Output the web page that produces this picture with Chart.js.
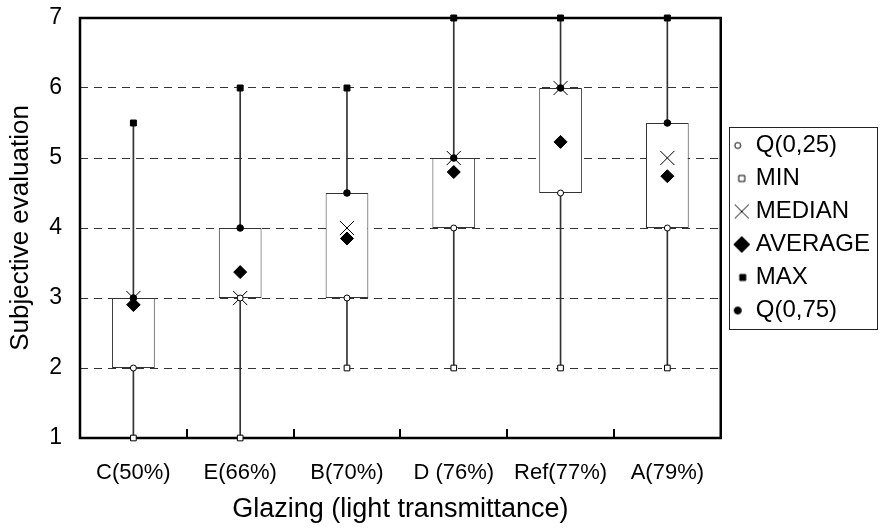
<!DOCTYPE html>
<html>
<head>
<meta charset="utf-8">
<script src="https://cdn.jsdelivr.net/npm/chart.js@4"></script>
<style>
    html, body { margin: 0; padding: 0; background: #fff; }
</style>
</head>
<body>
<canvas id="boxChart" width="880" height="528"></canvas>
<script>
var kategorije = ["C(50%)", "E(66%)", "B(70%)", "D (76%)", "Ref(77%)", "A(79%)"];
var minVrijednosti = [1, 1, 2, 2, 2, 2];
var q25 = [2, 3, 3, 4, 4.5, 4];
var medijan = [3, 3, 4, 5, 6, 5];
var prosjek = [2.9, 3.37, 3.85, 4.8, 5.23, 4.74];
var q75 = [3, 4, 4.5, 5, 6, 5.5];
var maxVrijednosti = [5.5, 6, 6, 7, 7, 7];
var yOznake = [1, 2, 3, 4, 5, 6, 7];

Chart.defaults.color = '#000';
Chart.defaults.font.family = "'Liberation Sans', Arial, sans-serif";

// mali markeri za legendu (razlicite velicine kao u originalu)
function napraviMarker(oblik, vel, ispuna, dx) {
    var c = document.createElement('canvas');
    c.width = 40; c.height = 24;
    var g = c.getContext('2d');
    var x = 20 + dx, y = 12;
    g.lineWidth = 1;
    g.strokeStyle = '#000';
    g.fillStyle = ispuna;
    g.beginPath();
    if (oblik === 'krug') {
        g.arc(x, y, vel, 0, Math.PI * 2);
    } else if (oblik === 'kvadrat') {
        g.rect(x - vel + 0.5, y - vel + 0.5, vel * 2 - 1, vel * 2 - 1);
    } else if (oblik === 'romb') {
        g.moveTo(x, y - vel); g.lineTo(x + vel, y); g.lineTo(x, y + vel); g.lineTo(x - vel, y); g.closePath();
    } else if (oblik === 'krst') {
        g.moveTo(x - vel, y - vel); g.lineTo(x + vel, y + vel);
        g.moveTo(x + vel, y - vel); g.lineTo(x - vel, y + vel);
        g.stroke();
        return c;
    }
    g.fill();
    g.stroke();
    return c;
}

var markeriLegende = [
    napraviMarker('krug', 3, '#fff', 1),
    napraviMarker('kvadrat', 3.5, '#fff', 5),
    napraviMarker('krst', 7, '#000', 5),
    napraviMarker('romb', 8, '#000', 5),
    napraviMarker('kvadrat', 3.5, '#000', 6),
    napraviMarker('krug', 3.5, '#000', 1)
];

var okvir = {
    id: 'okvir',
    beforeDatasetsDraw: function (chart) {
        var a = chart.chartArea;
        var ctx = chart.ctx;
        var xs = chart.scales.x;
        ctx.save();
        ctx.strokeStyle = '#000';
        ctx.lineWidth = 2.5;
        ctx.strokeRect(a.left, a.top, a.right - a.left, a.bottom - a.top);
        // kratke crtice prema unutra izmedju kategorija
        ctx.lineWidth = 2;
        for (var i = 1; i < kategorije.length; i++) {
            var px = Math.round((xs.getPixelForValue(i - 1) + xs.getPixelForValue(i)) / 2);
            ctx.beginPath();
            ctx.moveTo(px, a.bottom);
            ctx.lineTo(px, a.bottom - 9);
            ctx.stroke();
        }
        ctx.restore();
    }
};

var okvirLegende = {
    id: 'okvirLegende',
    afterDraw: function (chart) {
        var boxes = chart.legend.legendHitBoxes;
        if (!boxes || !boxes.length) return;
        var ctx = chart.ctx;
        var zadnji = boxes[boxes.length - 1];
        var lijevo = Math.round(boxes[0].left) - 0.5;
        var gore = Math.round(boxes[0].top) - 6.5;
        var dolje = Math.round(zadnji.top + zadnji.height) + 6.5;
        var desno = chart.width - 2.5;
        ctx.save();
        ctx.strokeStyle = '#222';
        ctx.lineWidth = 1;
        ctx.strokeRect(lijevo, gore, desno - lijevo, dolje - gore);
        ctx.restore();
    }
};

function tacke(label, podaci, stil, radius, ispuna, debljina) {
    return {
        type: 'line',
        label: label,
        data: podaci,
        showLine: false,
        pointStyle: stil,
        pointRadius: radius,
        pointBackgroundColor: ispuna,
        pointBorderColor: '#000',
        pointBorderWidth: debljina,
        order: 0,
        clip: false
    };
}

var ctx = document.getElementById('boxChart').getContext('2d');
var boxChart = new Chart(ctx, {
    type: 'bar',
    data: {
        labels: kategorije,
        datasets: [
            tacke('Q(0,25)', q25, 'circle', 3, '#fff', 1),
            tacke('MIN', minVrijednosti, 'rect', 4, '#fff', 1),
            tacke('MEDIAN', medijan, 'crossRot', 10, '#000', 1),
            tacke('AVERAGE', prosjek, 'rectRot', 6.5, '#000', 1),
            tacke('MAX', maxVrijednosti, 'rect', 4.2, '#000', 1),
            tacke('Q(0,75)', q75, 'circle', 3.3, '#000', 1),
            {
                label: 'box',
                data: kategorije.map(function (k, i) { return [q25[i], q75[i]]; }),
                backgroundColor: '#fff',
                borderColor: '#333',
                borderWidth: 1,
                borderSkipped: false,
                barPercentage: 0.4,
                categoryPercentage: 1,
                grouped: false,
                order: 2
            },
            {
                label: 'whisker',
                data: kategorije.map(function (k, i) { return [minVrijednosti[i], maxVrijednosti[i]]; }),
                backgroundColor: '#333',
                borderWidth: 0,
                barThickness: 1,
                grouped: false,
                order: 3
            }
        ]
    },
    options: {
        responsive: false,
        animation: false,
        layout: { padding: { top: 18, left: 0, right: 0, bottom: 0 } },
        plugins: {
            legend: {
                position: 'right',
                fullSize: false,
                labels: {
                    usePointStyle: true,
                    boxWidth: 14,
                    padding: 9,
                    font: { size: 24 },
                    color: '#000',
                    generateLabels: function (chart) {
                        var items = Chart.defaults.plugins.legend.labels.generateLabels(chart);
                        return items.filter(function (it) { return it.datasetIndex < 6; }).map(function (it) {
                            it.pointStyle = markeriLegende[it.datasetIndex];
                            return it;
                        });
                    }
                }
            },
            tooltip: { enabled: false }
        },
        scales: {
            x: {
                afterFit: function (axis) { axis.height = 90; },
                grid: { display: false },
                border: { display: false },
                ticks: { autoSkip: false, maxRotation: 0, padding: 14, font: { size: 22 } },
                title: {
                    display: true,
                    text: 'Glazing (light transmittance)',
                    font: { size: 27 },
                    padding: { top: 10, bottom: 2 }
                }
            },
            y: {
                min: 1,
                max: 7,
                afterFit: function (axis) {
                    axis.width = 80;
                    axis.paddingTop = 0;
                    axis.paddingBottom = 0;
                },
                afterBuildTicks: function (axis) {
                    axis.ticks = yOznake.map(function (v) { return { value: v }; });
                },
                ticks: { padding: 18, font: { size: 23 } },
                grid: { color: '#333', lineWidth: 1, drawTicks: false },
                border: { display: false, dash: [8, 6] },
                title: {
                    display: true,
                    text: 'Subjective evaluation',
                    font: { size: 26 },
                    padding: { top: 5, bottom: 13 }
                }
            }
        }
    },
    plugins: [okvir, okvirLegende]
});
</script>
</body>
</html>
